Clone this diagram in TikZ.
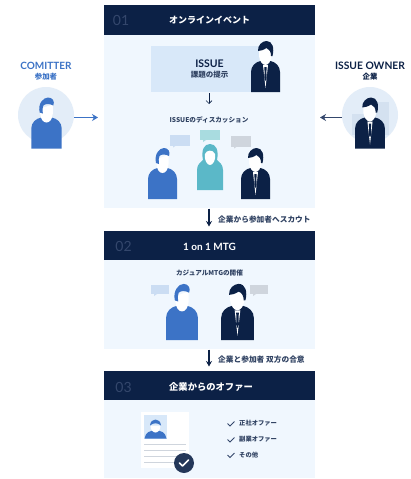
\documentclass[tikz,border=0pt]{standalone}
\usepackage{fontspec}
\setmainfont{Lato}
\newfontfamily\jp{Noto Sans CJK JP}
\definecolor{navy}{HTML}{0C2146}
\definecolor{panelc}{HTML}{F0F7FE}
\definecolor{issuec}{HTML}{D8E8F9}
\definecolor{bluep}{HTML}{3C73C6}
\definecolor{tealp}{HTML}{5BB8C8}
\definecolor{circc}{HTML}{E3EDF8}
\definecolor{bubb}{HTML}{CBDDF3}
\definecolor{bubt}{HTML}{A9DCE0}
\definecolor{bubg}{HTML}{CFD5DD}
\definecolor{numc}{HTML}{34476C}
\definecolor{bldg}{HTML}{D4E1F0}
\newcommand{\casualfig}[5]{% x, ybottom, xscale, yscale, body colour
\begin{scope}[shift={(#1,#2)},xscale=#3,yscale=#4]
\fill[#5] (-14.5,0) -- (-14.5,-20) .. controls (-14.5,-26) and (-10,-30) .. (-5,-31) -- (5,-31) .. controls (10,-30) and (14.5,-26) .. (14.5,-20) -- (14.5,0) -- cycle;
\fill[white] (-6,-40) -- (-6,-35) .. controls (-5.5,-29) and (-3,-26) .. (0,-26) .. controls (3,-26) and (5.5,-29) .. (6,-35) -- (6,-44) -- cycle;
\fill[#5] (-6.5,-36) .. controls (-8.5,-45) and (-3,-51) .. (1.5,-51) .. controls (6,-51) and (8,-47) .. (6.5,-43) .. controls (3,-45) and (-1,-45) .. (-3,-43) .. controls (-4,-41) and (-4,-38) .. (-3.5,-35) -- cycle;
\end{scope}}
\newcommand{\suitfig}[4]{% x, ybottom, xscale, yscale
\begin{scope}[shift={(#1,#2)},xscale=#3,yscale=#4]
\fill[navy] (-14.5,0) -- (-14.5,-20) .. controls (-14.5,-26) and (-10,-30) .. (-5,-31) -- (5,-31) .. controls (10,-30) and (14.5,-26) .. (14.5,-20) -- (14.5,0) -- cycle;
\fill[white] (-2.5,-27) -- (0,-4) -- (2.5,-27) -- cycle;
\fill[navy] (-1.2,-25) -- (1.2,-25) -- (0.9,-20) -- (1.2,-14) -- (0,-11) -- (-1.2,-14) -- (-0.9,-20) -- cycle;
\fill[white] (-6.5,-42) -- (-6.5,-36) .. controls (-6,-31) and (-3,-27) .. (0,-27) .. controls (3,-27) and (5.5,-31) .. (6,-36) -- (6,-44) -- cycle;
\fill[navy] (-7.5,-41) .. controls (-8,-47) and (-3,-51) .. (1,-51) .. controls (7,-51) and (9,-44) .. (7,-36) -- (5.5,-36) .. controls (5.5,-40) and (4,-43) .. (1,-44) .. controls (-2,-42) and (-5,-41) .. (-7.5,-41) -- cycle;
\end{scope}}
\newcommand{\bubblefig}[5]{% x1,y1,x2,y2, colour
\fill[#5] (#1,#2) rectangle (#3,#4);
\fill[#5] (#1+3,#4) -- (#1+6,#4) -- (#1+3,#4+2) -- cycle;
}
\tikzset{
  header/.style={fill=navy,minimum width=211pt,anchor=north west,inner sep=0pt,outer sep=0pt},
  panel/.style={fill=panelc,minimum width=211pt,anchor=north west,inner sep=0pt,outer sep=0pt},
  headt/.style={text=white,font=\jp\bfseries\fontsize{9}{10}\selectfont,inner sep=0pt},
  numt/.style={text=numc,font=\fontsize{14}{15}\selectfont,inner sep=0pt},
  small/.style={text=navy!85,font=\jp\bfseries\fontsize{6.6}{7}\selectfont,inner sep=0pt},
  flow/.style={navy,line width=1.1pt,-{Stealth[length=5.5pt,width=6pt]}},
  side/.style={line width=1.1pt,-{Stealth[length=6pt,width=7pt]}},
  thin/.style={navy,line width=.6pt,-{Straight Barb[length=3pt,width=6pt]}},
}
\usetikzlibrary{arrows.meta}
\begin{document}
\begin{tikzpicture}[x=1pt,y=-1pt]
\useasboundingbox (0,0) rectangle (411,479);
\fill[white] (0,0) rectangle (411,479);
% panels
\node[panel,minimum height=173pt] (p1) at (104,35) {};
\node[header,minimum height=30pt] (h1) at (104,5) {};
\node[panel,minimum height=89pt] (p2) at (104,260) {};
\node[header,minimum height=29pt] (h2) at (104,231) {};
\node[panel,minimum height=78pt] (p3) at (104,400) {};
\node[header,minimum height=29pt] (h3) at (104,371) {};
\node[numt] (n1) at (121,20.5) {01};
\node[numt] (n2) at (123.5,246.5) {02};
\node[numt] (n3) at (123.5,387) {03};
\node[headt] (t1) at (209.5,20) {オンラインイベント};
\node[headt,font=\bfseries\fontsize{10}{11}\selectfont] (t2) at (209.5,246.5) {1 on 1 MTG};
\node[headt,font=\jp\bfseries\fontsize{9.3}{10}\selectfont] (t3) at (211,386.5) {企業からのオファー};
% issue
\node[fill=issuec,minimum width=111pt,minimum height=46pt,inner sep=0pt,anchor=north west] (issue) at (151,46) {};
\node[text=navy,font=\bfseries\fontsize{10.5}{11}\selectfont,inner sep=0pt] (it) at (209.5,63.5) {ISSUE};
\node[small,font=\jp\bfseries\fontsize{7.5}{8}\selectfont] (is) at (209.5,75) {課題の提示};
\suitfig{265.5}{92}{1}{1}
\coordinate (a1s) at (209,93);
\coordinate (a1e) at (209,104);
\draw[thin] (a1s) -- (a1e);
\node[small] (disc) at (209,119.5) {ISSUEのディスカッション};
% discussion
\bubblefig{170}{135}{190}{145.5}{bubb}
\bubblefig{200}{129.5}{220}{140}{bubt}
\bubblefig{231}{136}{251}{146.5}{bubg}
\casualfig{162.5}{199}{1}{1}{bluep}
\begin{scope}[shift={(210,190)}]
\fill[tealp] (-13,0) -- (-13,-20) .. controls (-13,-26) and (-9,-28) .. (-7,-30) .. controls (-9,-40) and (-6,-46) .. (0,-46) .. controls (6,-46) and (9,-40) .. (7,-30) .. controls (9,-28) and (13,-26) .. (13,-20) -- (13,0) -- cycle;
\fill[white] (-5,-36) .. controls (-4,-40) and (3,-41) .. (5,-36) .. controls (6,-30) and (3,-25) .. (0,-25) .. controls (-3,-25) and (-6,-30) .. (-5,-36) -- cycle;
\end{scope}
\suitfig{255.5}{199}{1}{1}
% committer
\node[text=bluep,font=\bfseries\fontsize{10}{11}\selectfont,inner sep=0pt] (cn) at (46,65.5) {COMITTER};
\node[text=bluep,font=\jp\bfseries\fontsize{7.4}{8}\selectfont,inner sep=0pt] (cs) at (46,77) {参加者};
\node[circle,fill=circc,minimum size=56pt,inner sep=0pt] (cc) at (46,115) {};
\casualfig{46.5}{148.5}{1.05}{1}{bluep}
% owner
\node[text=navy,font=\bfseries\fontsize{10.3}{11}\selectfont,inner sep=0pt] (on) at (370,65.5) {ISSUE OWNER};
\node[text=navy,font=\jp\bfseries\fontsize{7.4}{8}\selectfont,inner sep=0pt] (os) at (370,77) {企業};
\node[circle,fill=circc,minimum size=56pt,inner sep=0pt] (oc) at (370,115) {};
\fill[bldg] (352,114) rectangle (368,135);
\fill[bldg] (373,102) rectangle (389,135);
\suitfig{370}{148.5}{1.03}{1}
% side arrows
\coordinate (l1) at (74,117.5);
\coordinate (l2) at (98,117.5);
\coordinate (r1) at (342,117.5);
\coordinate (r2) at (320,117.5);
\draw[side,bluep] (l1) -- (l2);
\draw[side,numc] (r1) -- (r2);
% scout
\coordinate (f1) at (209,208.5);
\coordinate (f2) at (209,226.5);
\draw[flow] (f1) -- (f2);
\node[small,anchor=west,font=\jp\bfseries\fontsize{7.7}{8}\selectfont] (ft1) at (218,219.5) {企業から参加者へスカウト};
% 1on1
\node[small] (cas) at (209.5,273) {カジュアルMTGの開催};
\bubblefig{151}{285}{169}{294}{bubb}
\bubblefig{250}{285}{268}{294}{bubg}
\casualfig{182}{340}{1.1}{1.1}{bluep}
\suitfig{237.5}{340}{1.13}{1.1}
\coordinate (g1) at (209,349.5);
\coordinate (g2) at (209,366.5);
\draw[flow] (g1) -- (g2);
\node[small,anchor=west,font=\jp\bfseries\fontsize{7.7}{8}\selectfont] (ft2) at (218,360) {企業と参加者 双方の合意};
% offer doc
\fill[white] (141,412) rectangle (189,468);
\fill[issuec] (144,415) rectangle (167,439);
\begin{scope}[shift={(155.5,438.5)}]
\fill[bluep] (-11,0) .. controls (-10,-6) and (-6,-8) .. (0,-8) .. controls (6,-8) and (10,-6) .. (11,0) -- cycle;
\fill[white] (-5,-13) .. controls (-5,-8) and (-2,-6) .. (0,-6) .. controls (2,-6) and (5,-8) .. (5,-13) -- cycle;
\fill[bluep] (-5.5,-13) .. controls (-5,-21) and (5,-21) .. (5.5,-13) .. controls (2,-16) and (-2,-16) .. (-5.5,-13) -- cycle;
\end{scope}
\foreach \yy in {444,450,456,462}{\draw[bubg,line width=.6pt] (144,\yy) -- (186,\yy);}
\node[circle,fill=navy!90,minimum size=20pt,inner sep=0pt] (ok) at (184,463) {};
\draw[white,line width=1.5pt,line cap=round,line join=round] (179.5,463) -- (182.5,466) -- (188.5,460);
\foreach \yy/\tt in {423.5/正社オファー,439.5/副業オファー,455/その他}{
  \draw[numc,line width=.9pt] (227.5,\yy) -- (230,\yy+2.5) -- (234.5,\yy-2);
  \node[small,anchor=west,font=\jp\bfseries\fontsize{6.3}{7}\selectfont] at (239,\yy) {\tt};
}
\end{tikzpicture}
\end{document}
